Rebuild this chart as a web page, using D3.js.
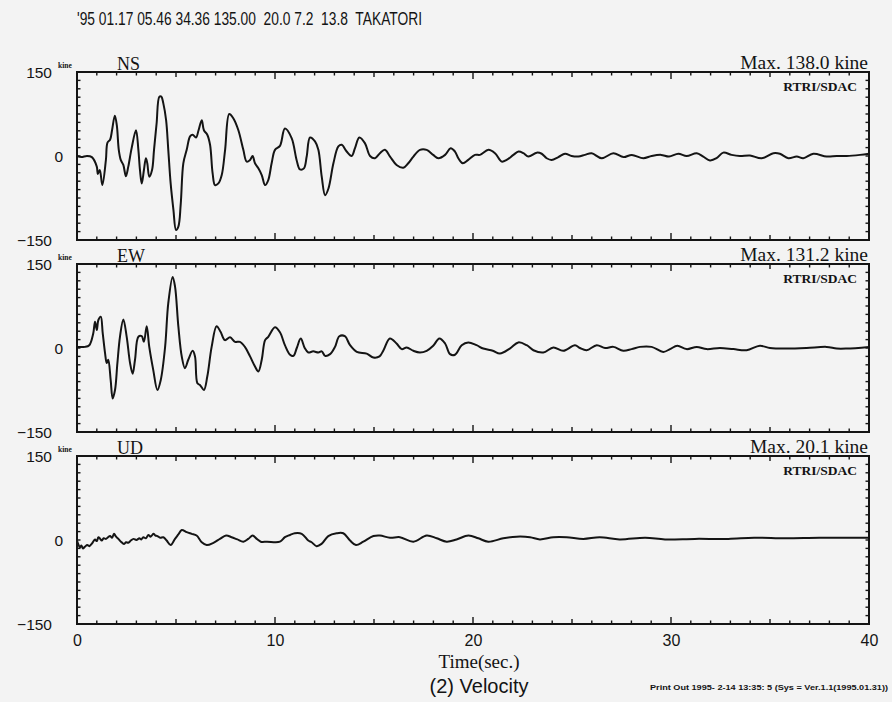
<!DOCTYPE html>
<html><head><meta charset="utf-8">
<script src="https://cdn.jsdelivr.net/npm/d3@7"></script>
<style>
html,body{margin:0;padding:0;background:#f3f3f3;}
svg{display:block;}
</style></head><body>
<svg id="c" width="892" height="702"></svg>
<script>
// ---------- data ----------
const headerText = "'95 01.17 05.46 34.36 135.00  20.0 7.2  13.8  TAKATORI";
const components = ["NS", "EW", "UD"];
const maxLabels = ["Max. 138.0 kine", "Max. 131.2 kine", "Max. 20.1 kine"];
const sourceLabel = "RTRI/SDAC";
const yTickLabels = [150, 0, -150];
const xTickLabels = [0, 10, 20, 30, 40];
const xTitle = "Time(sec.)";
const chartTitle = "(2) Velocity";
const footerText = "Print Out 1995- 2-14 13:35: 5 (Sys = Ver.1.1(1995.01.31))";

const nsTime = [0,0.22,0.5,0.75,1.0,1.05,1.15,1.28,1.46,1.54,1.67,1.77,1.91,2.01,2.11,2.21,2.34,2.47,2.59,2.76,2.98,3.1,3.18,3.27,3.38,3.48,3.55,3.65,3.79,3.89,4.02,4.16,4.26,4.36,4.5,4.61,4.73,4.87,5.0,5.12,5.24,5.37,5.54,5.71,5.84,6.01,6.14,6.3,6.41,6.58,6.72,6.85,6.97,7.14,7.31,7.48,7.69,7.9,8.15,8.4,8.57,8.74,8.87,8.99,9.16,9.33,9.5,9.66,9.83,10.0,10.25,10.5,10.84,11.09,11.26,11.46,11.6,11.77,12.02,12.19,12.36,12.53,12.7,12.95,13.2,13.37,13.62,13.87,14.04,14.26,14.54,14.8,15.05,15.3,15.55,15.81,16.14,16.48,16.73,16.99,17.32,17.66,17.99,18.25,18.59,18.87,19.09,19.26,19.48,19.76,20.1,20.35,20.78,21.11,21.45,21.7,22.04,22.3,22.55,22.8,23.22,23.47,23.72,23.97,24.31,24.65,24.98,25.32,25.65,25.99,26.5,27.09,27.6,28.02,28.6,29.02,29.5,29.9,30.37,30.79,31.3,31.63,31.97,32.3,32.64,33.06,33.48,33.99,34.58,35.17,35.5,35.93,36.35,36.68,37.19,37.86,38.37,38.87,39.55,40];
const nsVel = [0,-2,0,-2,-19,-32,-25,-52,-7,24,29,46,72,55,11,-7,-16,-36,-19,14,46,11,-25,-49,-25,-4,-13,-37,-25,11,58,106,106,94,64,11,-49,-96,-132,-126,-85,-13,11,35,38,33,46,64,46,38,20,-31,-52,-49,-34,11,75,67,46,11,-10,-7,0,-13,-22,-34,-52,-43,-13,11,18,49,32,-7,-24,-22,-1,33,26,11,-37,-70,-58,-13,17,20,8,0,14,33,23,0,-4,5,11,-1,-16,-21,-13,-1,11,11,2,-4,2,14,8,-4,-13,-7,2,2,11,5,-10,-7,2,8,5,-1,6,4,-4,-7,-2,4,0,-1,2,5,-4,5,-2,2,-4,0,2,-1,4,0,5,-1,-8,-4,6,2,0,1,-4,5,4,-4,-1,-4,4,-1,0,0,2,4];

const ewTime = [0,0.4,0.62,0.82,0.91,1.0,1.08,1.2,1.3,1.42,1.5,1.58,1.7,1.8,1.92,2.04,2.17,2.34,2.51,2.68,2.81,2.93,3.1,3.27,3.38,3.52,3.65,3.85,4.06,4.23,4.45,4.61,4.83,4.95,5.12,5.29,5.45,5.62,5.84,5.96,6.08,6.21,6.41,6.58,6.8,7.05,7.25,7.47,7.73,7.98,8.23,8.48,8.74,8.99,9.16,9.33,9.5,9.66,10.0,10.25,10.5,10.76,10.93,11.1,11.3,11.5,11.68,11.93,12.19,12.36,12.53,12.78,13.03,13.25,13.53,13.79,14.13,14.63,14.97,15.28,15.48,15.8,16.14,16.4,16.65,16.99,17.32,17.66,17.99,18.3,18.59,18.84,19.09,19.43,19.76,20.18,20.52,21.0,21.36,21.86,22.29,22.71,23.05,23.55,24.06,24.56,25.15,25.4,25.74,26.25,26.67,27.09,27.59,28.01,28.43,29.02,29.61,29.95,30.32,30.79,31.3,31.8,32.47,33.15,33.82,34.49,35.0,35.84,36.85,37.86,38.37,38.87,40];
const ewVel = [2,2,5,26,47,32,50,56,26,-10,-27,-21,-57,-90,-75,-27,20,51,20,-27,-46,-21,20,21,11,39,2,-39,-75,-57,2,80,127,110,38,-15,-36,-21,-5,-15,-63,-66,-75,-51,2,39,29,14,19,11,11,2,-15,-33,-42,-21,14,20,37,28,5,-12,-14,0,17,0,-8,-6,-8,-6,-14,-11,2,21,21,5,-7,-10,-17,-15,-4,17,8,-2,1,-5,-8,-5,4,17,8,-11,-12,5,10,5,-1,-5,-10,-1,10,5,-4,-8,1,-5,5,0,-4,5,0,2,-5,-2,2,2,-7,-2,4,-2,2,-2,0,-2,-4,4,0,-1,0,2,-1,-1,2];

const udTime = [0,0.08,0.15,0.22,0.3,0.4,0.52,0.62,0.74,0.82,0.91,1.0,1.08,1.17,1.25,1.35,1.47,1.57,1.67,1.77,1.87,1.97,2.09,2.22,2.37,2.48,2.59,2.72,2.85,3.0,3.15,3.25,3.35,3.48,3.6,3.72,3.86,3.96,4.06,4.2,4.36,4.53,4.73,4.95,5.12,5.29,5.54,5.79,6.04,6.3,6.55,6.89,7.22,7.53,7.81,8.1,8.4,8.65,8.87,9.08,9.28,9.6,10.25,10.5,10.76,11.0,11.35,11.68,11.85,12.1,12.35,12.69,13.11,13.45,13.79,14.09,14.46,14.97,15.3,15.81,16.31,16.99,17.66,18.17,18.67,19.17,19.77,20.27,20.77,21.53,22.2,22.88,23.38,24.06,24.73,25.57,26.4,27.4,28.7,29.7,31.2,32.9,34.2,35.8,37.5,40];
const udVel = [-1,-9,-13,-10,-15,-12,-9,-11,-7,-3,1,-2,5,2,-1,3,2,5,7,4,11,6,2,-3,-7,-4,-5,-1,2,0,3,1,5,3,9,6,11,8,7,4,5,-1,-9,2,10,18,14,11,8,-4,-9,-5,2,8,5,1,-3,2,8,2,-3,-3,-3,5,9,12,11,-1,-4,-11,-7,7,12,12,-1,-9,-3,7,8,4,5,-3,8,3,-3,1,8,3,-3,3,6,5,1,5,5,2,5,1,4,1,2,2,4,3,4,4];

// ---------- layout ----------
const svg = d3.select("#c");
const W = 892, H = 702;
const left = 77, right = 869, panelH = 168, panelTops = [72, 264, 456];
const ink = "#141414";
const serif = "'Liberation Serif', 'DejaVu Serif', serif";
const sans = "'Liberation Sans', Arial, sans-serif";

svg.append("rect").attr("width", W).attr("height", H).attr("fill", "#f3f3f3");

const x = d3.scaleLinear().domain([0, 40]).range([left, right]);

// header
svg.append("text").attr("x", 77).attr("y", 25)
  .attr("font-family", sans).attr("font-size", 18).attr("fill", ink)
  .attr("textLength", 345).attr("lengthAdjust", "spacingAndGlyphs")
  .style("white-space", "pre").text(headerText);

const series = [
  {t: nsTime, v: nsVel},
  {t: ewTime, v: ewVel},
  {t: udTime, v: udVel}
];

components.forEach((name, i) => {
  const top = panelTops[i], bottom = top + panelH;
  const y = d3.scaleLinear().domain([-150, 150]).range([bottom, top]);
  const g = svg.append("g");

  // ticks (inward)
  d3.range(1, 40, 1).forEach(s => {
    const len = s % 10 === 0 ? 7 : (s % 5 === 0 ? 5 : 3.5);
    g.append("line").attr("x1", x(s)).attr("x2", x(s)).attr("y1", top).attr("y2", top + len)
      .attr("stroke", ink).attr("stroke-width", 1.4);
    g.append("line").attr("x1", x(s)).attr("x2", x(s)).attr("y1", bottom).attr("y2", bottom - len)
      .attr("stroke", ink).attr("stroke-width", 1.4);
  });
  d3.range(-135, 150, 15).forEach(k => {
    g.append("line").attr("x1", left).attr("x2", left + 3.5).attr("y1", y(k)).attr("y2", y(k))
      .attr("stroke", ink).attr("stroke-width", 1.4);
    g.append("line").attr("x1", right).attr("x2", right - 3.5).attr("y1", y(k)).attr("y2", y(k))
      .attr("stroke", ink).attr("stroke-width", 1.4);
  });

  // frame
  g.append("rect").attr("x", left).attr("y", top).attr("width", right - left).attr("height", panelH)
    .attr("fill", "none").attr("stroke", ink).attr("stroke-width", 2);

  // trace
  const s = series[i];
  const pts = s.t.map((t, j) => [t, s.v[j]]);
  g.append("path").datum(pts)
    .attr("d", d3.line().x(d => x(d[0])).y(d => y(d[1])).curve(d3.curveCatmullRom.alpha(0.5)))
    .attr("fill", "none").attr("stroke", ink).attr("stroke-width", 2)
    .attr("stroke-linejoin", "round");

  // y labels
  yTickLabels.forEach(val => {
    g.append("text").attr("x", val === 0 ? 63 : 52).attr("y", y(val) + 5.5)
      .attr("text-anchor", "end").attr("font-family", sans).attr("font-size", 15.5)
      .attr("fill", ink).text(val < 0 ? "\u2212" + Math.abs(val) : String(val));
  });
  g.append("text").attr("x", 58).attr("y", top - 4)
    .attr("font-family", serif).attr("font-weight", "bold").attr("font-size", 7.5)
    .attr("fill", ink).text("kine");

  // component label
  g.append("text").attr("x", 117).attr("y", top - 2)
    .attr("font-family", serif).attr("font-size", 18).attr("fill", ink).text(name);

  // max label
  g.append("text").attr("x", right - 1).attr("y", top - 3).attr("text-anchor", "end")
    .attr("font-family", serif).attr("font-size", 19.5).attr("fill", ink).text(maxLabels[i]);

  // source
  g.append("text").attr("x", 857).attr("y", top + 19).attr("text-anchor", "end")
    .attr("font-family", serif).attr("font-weight", "bold").attr("font-size", 13.5)
    .attr("fill", ink).text(sourceLabel);
});

// x axis labels
const xAxis = d3.axisBottom(x).tickValues(xTickLabels).tickSize(0).tickPadding(10);
const xg = svg.append("g").attr("transform", `translate(0,${panelTops[2] + panelH + 1})`).call(xAxis);
xg.select(".domain").remove();
xg.selectAll("text").attr("font-family", sans).attr("font-size", 16).attr("fill", ink);

svg.append("text").attr("x", 479).attr("y", 668).attr("text-anchor", "middle")
  .attr("font-family", serif).attr("font-size", 19).attr("fill", ink).text(xTitle);
svg.append("text").attr("x", 479).attr("y", 693).attr("text-anchor", "middle")
  .attr("font-family", sans).attr("font-size", 20).attr("fill", ink).text(chartTitle);
svg.append("text").attr("x", 650).attr("y", 690)
  .attr("font-family", sans).attr("font-weight", "bold").attr("font-size", 7)
  .attr("textLength", 238).attr("lengthAdjust", "spacingAndGlyphs")
  .attr("fill", ink).style("white-space", "pre").text(footerText);
</script>
</body></html>
